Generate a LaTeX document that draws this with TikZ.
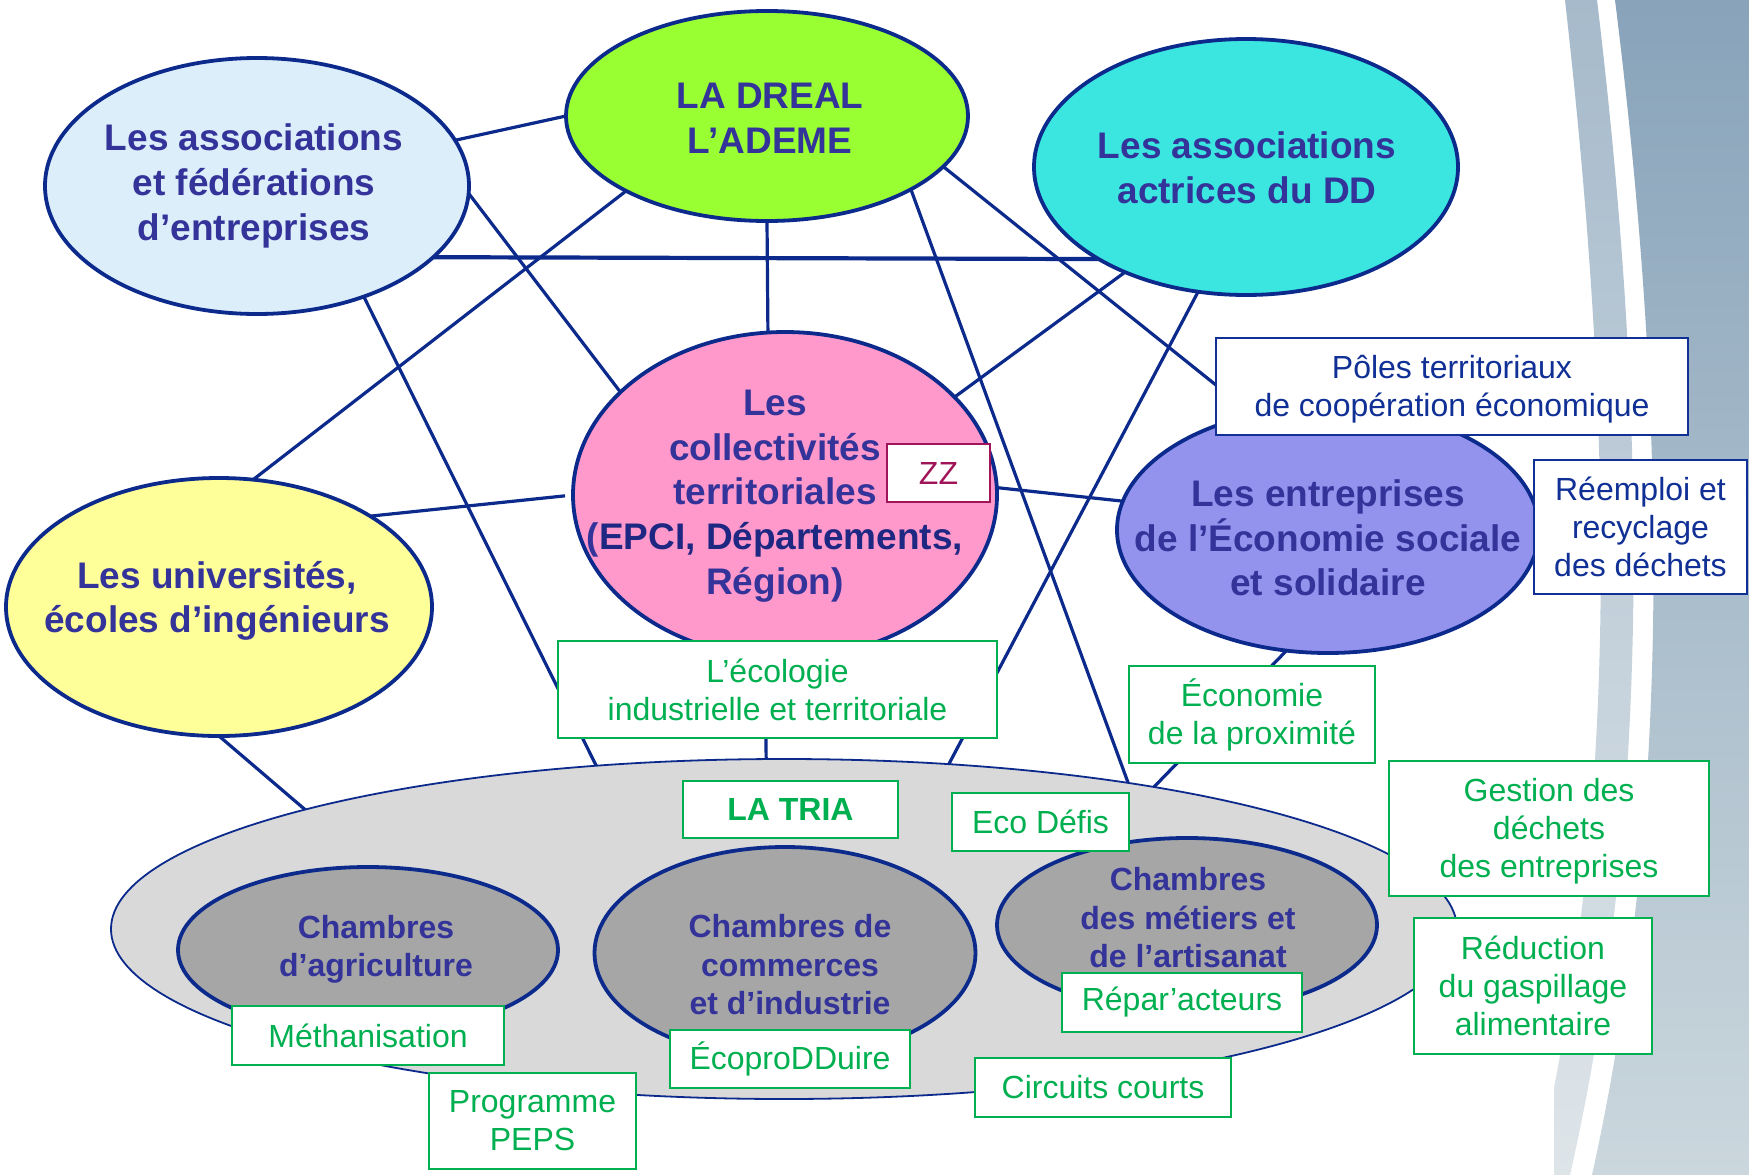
\documentclass[tikz,border=0pt]{standalone}
\usepackage{fontspec}
\setmainfont{Liberation Sans}
\usetikzlibrary{shapes.geometric}
\pgfdeclarelayer{bgpic}
\pgfdeclarelayer{edges}
\pgfsetlayers{bgpic,edges,main}

\definecolor{navy}{RGB}{12,42,140}
\definecolor{titleblue}{RGB}{51,51,153}
\definecolor{epciblue}{RGB}{30,40,130}
\definecolor{boxblue}{RGB}{16,48,150}
\definecolor{boxgreen}{RGB}{0,176,80}
\definecolor{zzred}{RGB}{160,20,90}
\definecolor{lblue}{RGB}{221,238,251}
\definecolor{lgreen}{RGB}{153,255,51}
\definecolor{lcyan}{RGB}{59,229,224}
\definecolor{lpink}{RGB}{255,153,204}
\definecolor{lyellow}{RGB}{255,255,153}
\definecolor{lpurple}{RGB}{147,147,238}
\definecolor{triagray}{RGB}{217,217,217}
\definecolor{chgray}{RGB}{166,166,166}
\definecolor{bgtop}{RGB}{136,163,186}
\definecolor{bgbot}{RGB}{203,215,221}
\definecolor{bandtop}{RGB}{166,186,203}
\definecolor{bandbot}{RGB}{222,229,233}

\tikzset{
  ell/.style={ellipse, draw=navy, line width=3.8pt, inner sep=0pt, outer sep=0pt},
  link/.style={draw=navy, line width=3.2pt},
  ttl/.style={text=titleblue, align=center, inner sep=0pt, font=\bfseries\fontsize{37}{44.6}\selectfont},
  ttls/.style={text=titleblue, align=center, inner sep=0pt, font=\bfseries\fontsize{32}{38.5}\selectfont},
  gbox/.style={rectangle, draw=boxgreen, line width=2.4pt, fill=white, text=boxgreen, align=center, inner sep=0pt, font=\fontsize{32}{38}\selectfont},
  bbox/.style={rectangle, draw=boxblue, line width=2.2pt, fill=white, text=boxblue, align=center, inner sep=0pt, font=\fontsize{32}{38}\selectfont},
  zbox/.style={rectangle, draw=zzred, line width=2.2pt, fill=white, text=zzred, align=center, inner sep=0pt, font=\fontsize{32}{38}\selectfont}
}

\begin{document}
\begin{tikzpicture}[x=1pt,y=-1pt]
\useasboundingbox (0,0) rectangle (1749,1175);

% background
\begin{pgfonlayer}{bgpic}
\fill[white] (0,0) rectangle (1749,1175);
\shade[top color=bgtop, bottom color=bgbot] (1615,0) .. controls (1665,400) and (1675,800) .. (1592,1175) -- (1749,1175) -- (1749,0) -- cycle;
\shade[top color=bandtop, bottom color=bandbot] (1565,0) .. controls (1610,400) and (1625,800) .. (1535,1175) -- (1570,1175) .. controls (1655,800) and (1645,400) .. (1597,0) -- cycle;
\fill[white] (0,0) rectangle (1554,1175);
\end{pgfonlayer}

% ellipses
\node[ell, fill=triagray, line width=1.8pt, minimum width=1346pt, minimum height=340pt] (tria) at (784,929) {};
\node[ell, fill=chgray, minimum width=380pt, minimum height=166pt] (agri) at (368,950) {};
\node[ell, fill=chgray, minimum width=381pt, minimum height=212pt] (cci) at (785,953) {};
\node[ell, fill=chgray, minimum width=380pt, minimum height=174pt] (cma) at (1187,925) {};
\node[ell, fill=lblue, minimum width=424pt, minimum height=256pt] (afed) at (257,186) {};
\node[ell, fill=lgreen, minimum width=402pt, minimum height=210pt] (dreal) at (767,116) {};
\node[ell, fill=lcyan, minimum width=424pt, minimum height=256pt] (add) at (1246,167) {};
\node[ell, fill=lpink, minimum width=424pt, minimum height=326pt] (coll) at (785,495) {};
\node[ell, fill=lyellow, minimum width=426pt, minimum height=258pt] (univ) at (219,607) {};
\node[ell, fill=lpurple, minimum width=422pt, minimum height=246pt] (ess) at (1328,530) {};

% connectors
\begin{pgfonlayer}{edges}
\draw[link] (afed.13) -- (dreal.180);
\draw[link, line width=4.2pt] (afed.-22.7) -- (add.-148);
\draw[link] (afed.-2) -- (coll.148);
\draw[link] (afed.-46) -- (tria.139);
\draw[link] (dreal.-152.7) -- (univ.75.5);
\draw[link] (dreal.south) -- (coll.96);
\draw[link] (dreal.-27.7) -- (tria.23.9);
\draw[link] (dreal.-16) -- (ess.123);
\draw[link] (add.-139.3) -- (coll.30);
\draw[link] (add.-111.9) -- (tria.45);
\draw[link] (coll.2) -- (ess.172.4);
\draw[link, shorten >=8pt] (univ.31.6) -- (coll.180);
\draw[link] (univ.south) -- (tria.166.2);
\draw[link] (ess.-109) -- (tria.21);
\draw[link] (coll.-97) -- (tria.96);
\end{pgfonlayer}

% titles
\node[ttl] (tafed) at (254,186) {Les associations\\et fédérations\\d’entreprises};
\node[ttl] (tdreal) at (770,118) {LA DREAL\\L’ADEME};
\node[ttl] (tadd) at (1247,168) {Les associations\\actrices du DD};
\node[ttl] (tcoll) at (775,496) {Les\\collectivités\\territoriales\\(\textcolor{epciblue}{EPCI, Départements,}\\Région)};
\node[ttl] (tuniv) at (217,601) {Les universités,\\écoles d’ingénieurs};
\node[ttl] (tess) at (1328,538) {Les entreprises\\de l’Économie sociale\\et solidaire};
\node[ttls] (tagri) at (376,949.5) {Chambres\\d’agriculture};
\node[ttls] (tcci) at (790,965) {Chambres de\\commerces\\et d’industrie};
\node[ttls] (tcma) at (1188,918) {Chambres\\des métiers et\\de l’artisanat};

% boxes
\node[bbox, minimum width=472pt, minimum height=97pt] (poles) at (1452,386.5) {\raisebox{-3.5pt}[\height][\depth]{\begin{tabular}{@{}c@{}}Pôles territoriaux\\de coopération économique\end{tabular}}};
\node[bbox, minimum width=213pt, minimum height=134pt] (reemploi) at (1640.5,527) {Réemploi et\\recyclage\\des déchets};
\node[zbox, minimum width=103pt, minimum height=58pt] (zz) at (938.5,473) {ZZ};
\node[gbox, minimum width=439pt, minimum height=97pt] (ecolo) at (777.5,689.5) {L’écologie\\industrielle et territoriale};
\node[gbox, minimum width=246pt, minimum height=97pt] (proxi) at (1252,714.5) {Économie\\de la proximité};
\node[gbox, font=\bfseries\fontsize{32}{38}\selectfont, minimum width=215pt, minimum height=57pt] (latria) at (790.5,809.5) {LA TRIA};
\node[gbox, minimum width=177pt, minimum height=58pt] (ecodefis) at (1040.5,822) {Eco Défis};
\node[gbox, minimum width=320pt, minimum height=135pt] (gestion) at (1549,828.5) {\raisebox{-3.5pt}[\height][\depth]{\begin{tabular}{@{}c@{}}Gestion des\\déchets\\des entreprises\end{tabular}}};
\node[gbox, minimum width=238pt, minimum height=136pt] (reduc) at (1533,986) {Réduction\\du gaspillage\\alimentaire};
\node[gbox, minimum width=240pt, minimum height=59pt] (repar) at (1182,1002.5) {Répar’acteurs};
\node[gbox, minimum width=256pt, minimum height=59pt] (circuits) at (1103,1087.5) {Circuits courts};
\node[gbox, minimum width=240pt, minimum height=58pt] (ecoprod) at (790,1059) {ÉcoproDDuire};
\node[gbox, minimum width=272pt, minimum height=59pt] (metha) at (368,1035.5) {Méthanisation};
\node[gbox, minimum width=207pt, minimum height=96pt] (peps) at (532.5,1121) {Programme\\PEPS};
\end{tikzpicture}
\end{document}
